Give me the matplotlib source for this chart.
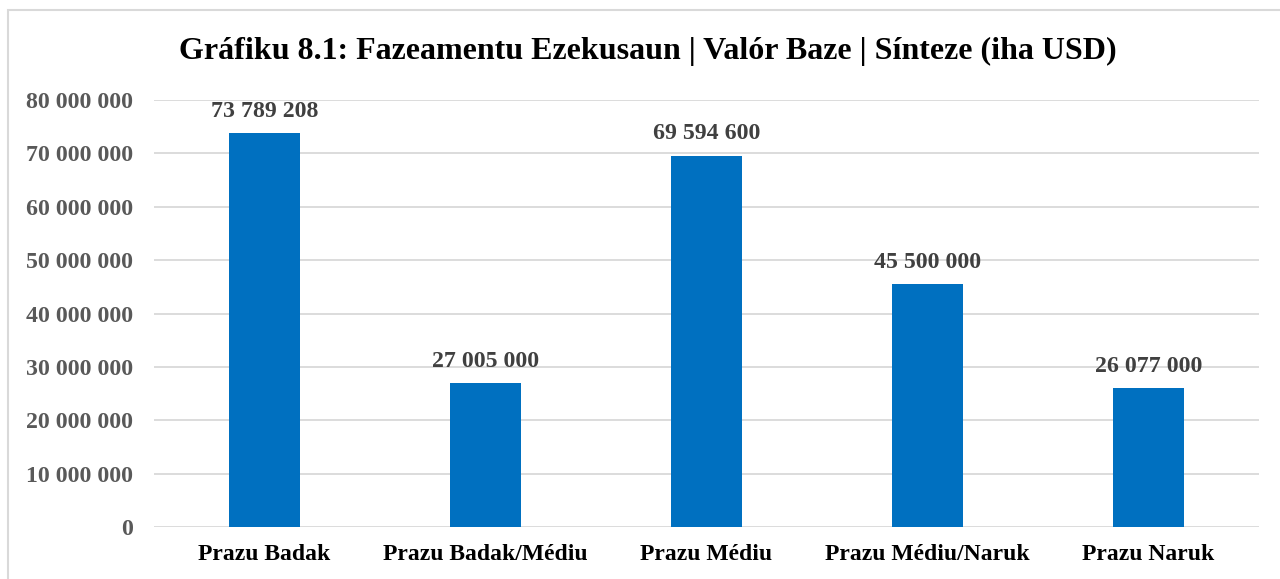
import matplotlib.pyplot as plt
from matplotlib.patches import Rectangle
from matplotlib.ticker import FuncFormatter

categories = ['Prazu Badak', 'Prazu Badak/Médiu', 'Prazu Médiu', 'Prazu Médiu/Naruk', 'Prazu Naruk']
values = [73789208, 27005000, 69594600, 45500000, 26077000]
yticks = [0, 10000000, 20000000, 30000000, 40000000, 50000000, 60000000, 70000000, 80000000]
title = 'Gráfiku 8.1: Fazeamentu Ezekusaun | Valór Baze | Sínteze (iha USD)'


def spaced(v, pos=None):
    return '{:,}'.format(int(v)).replace(',', ' ')


plt.rcParams['font.family'] = ['Liberation Serif', 'DejaVu Serif']
plt.rcParams['font.weight'] = 'bold'

fig = plt.figure(figsize=(12.8, 5.79), dpi=100)
# outer chart frame (cut off at right and bottom like the original)
fig.patches.append(Rectangle((8 / 1280, -0.1), 1.2, 1 - 10 / 579 + 0.1,
                             transform=fig.transFigure, fill=False,
                             edgecolor='#D9D9D9', linewidth=1.5))

ax = fig.add_axes([154 / 1280, 1 - 527 / 579, (1259 - 154) / 1280, (527 - 100) / 579])
x = range(len(categories))
bars = ax.bar(x, values, width=0.32, color='#0070C0', zorder=3)

ax.set_ylim(0, 80000000)
ax.set_xlim(-0.5, len(categories) - 0.5)
ax.set_yticks(yticks)
ax.yaxis.set_major_formatter(FuncFormatter(spaced))
ax.grid(axis='y', color='#D9D9D9', linewidth=1.3, zorder=0)
for s in ax.spines.values():
    s.set_visible(False)
ax.tick_params(axis='y', length=0, pad=15, labelsize=17.2, labelcolor='#595959')
ax.tick_params(axis='x', length=0, pad=12, labelsize=17, labelcolor='black')
ax.set_xticks(list(x))
ax.set_xticklabels(categories, fontweight='bold')
for lab in ax.get_yticklabels():
    lab.set_fontweight('bold')

for b, v in zip(bars, values):
    ax.annotate(spaced(v), (b.get_x() + b.get_width() / 2, v),
                xytext=(0, 8), textcoords='offset points', ha='center', va='bottom',
                fontsize=17.2, fontweight='bold', color='#404040')

fig.text(648 / 1280, 1 - 51 / 579, title, ha='center', va='center',
         fontsize=23, fontweight='bold', color='black')

fig.savefig('out.png', dpi=100)
